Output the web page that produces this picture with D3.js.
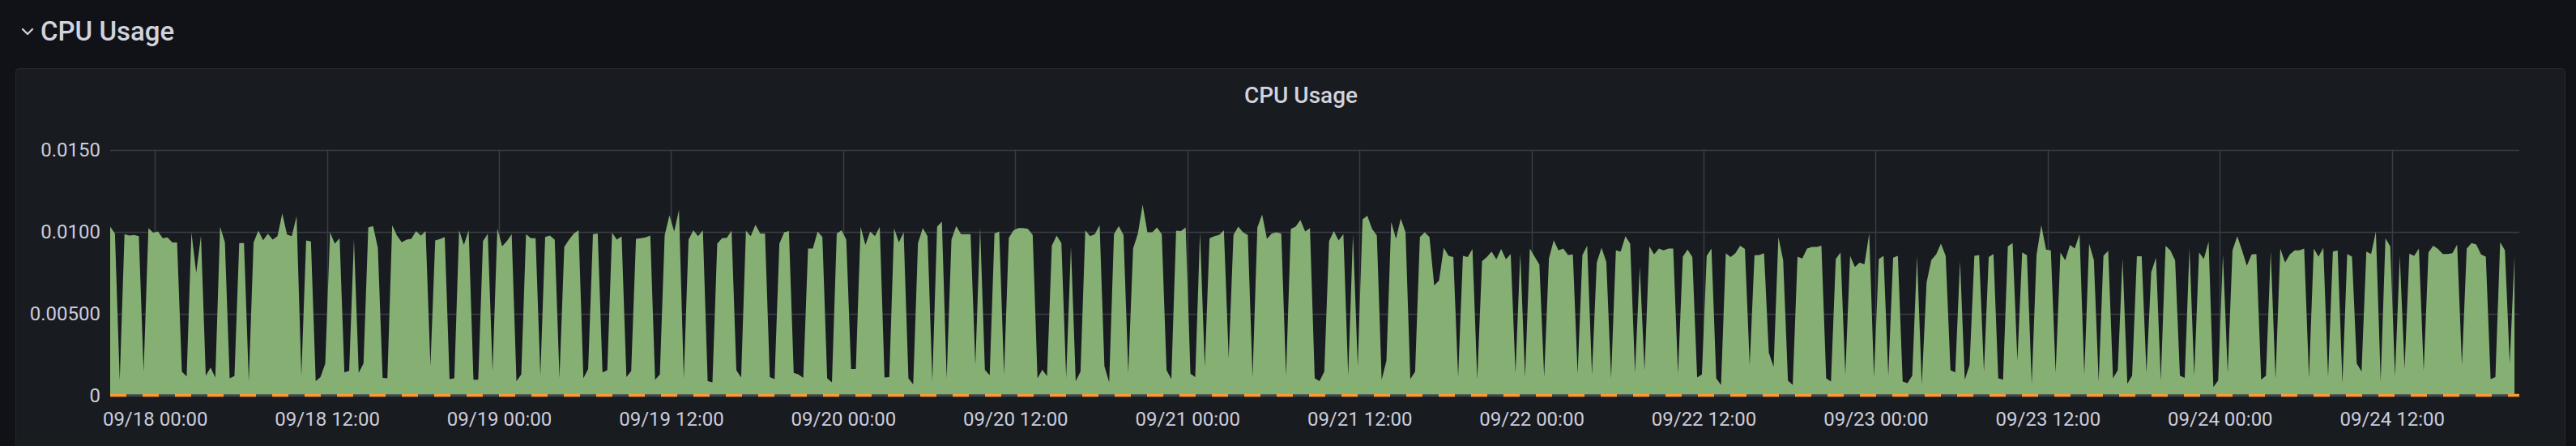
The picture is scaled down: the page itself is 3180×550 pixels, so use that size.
<!DOCTYPE html>
<html>
<head>
<meta charset="utf-8">
<script src="https://cdn.jsdelivr.net/npm/d3@7"></script>
<style>
  html, body { margin: 0; padding: 0; background: #111217; }
  svg { display: block; }
  text { font-family: Roboto, Inter, "Noto Sans", sans-serif; }
</style>
</head>
<body>
<svg id="chart" width="3180" height="550"></svg>
<script>
// ---- Data ----
const rowTitle = "CPU Usage";
const panelTitle = "CPU Usage";
const startTime = new Date(2023, 8, 17, 20, 53, 0);   // first sample / left edge
const endTime = new Date(2023, 8, 24, 20, 53, 0);     // right edge of 7-day range
const stepMinutes = 20;
const yTicks = [0, 0.005, 0.01, 0.015];
const yTickLabels = ["0", "0.00500", "0.0100", "0.0150"];
const xTickFormat = "%m/%d %H:%M";

const cpuPart1 = [
0.01030,0.00988,0.00090,0.00984,0.00975,0.00979,0.00972,0.00145,0.01021,0.00992,
0.01000,0.00959,0.00964,0.00933,0.00933,0.00145,0.00115,0.00995,0.00748,0.00975,
0.00120,0.00169,0.00109,0.01030,0.00934,0.00104,0.00117,0.00929,0.00929,0.00084,
0.00933,0.01005,0.00947,0.00987,0.00951,0.00972,0.01110,0.00982,0.00972,0.01094,
0.00120,0.00946,0.00939,0.00087,0.00112,0.00194,0.00995,0.00926,0.00959,0.00140,
0.00150,0.00956,0.00137,0.00194,0.01025,0.01033,0.00901,0.00107,0.00104,0.01038,
0.00975,0.00934,0.00951,0.00956,0.01003,0.00975,0.01003,0.00178,0.00946,0.00954,
0.00967,0.00099,0.00104,0.01008,0.00918,0.01008,0.00095,0.00095,0.00942,0.00987,
0.00148,0.01020,0.00910,0.00942];
const cpuPart2 = [
0.00984,0.00087,0.00128,0.00984,0.00959,0.00959,0.00120,0.00967,0.00975,0.00951,
0.00107,0.00906,0.00951,0.00988,0.01008,0.00104,0.00161,0.00984,0.00988,0.00140,
0.00153,0.00992,0.00951,0.00970,0.00112,0.00148,0.00956,0.00959,0.00964,0.00975,
0.00095,0.00128,0.00975,0.01099,0.01000,0.01132,0.00104,0.00951,0.01008,0.00972,
0.01008,0.00087,0.00079,0.00926,0.00959,0.00962,0.01005,0.00153,0.00109,0.01005,
0.00972,0.01041,0.00988,0.00988,0.00112,0.00099,0.00926,0.00995,0.01003,0.00137,
0.00128,0.00107,0.00896,0.00896,0.01000,0.00967,0.00104,0.00079,0.00988,0.01008,
0.00951,0.00161,0.00161,0.01028,0.00918,0.01000,0.00972,0.01028,0.00109,0.00112,
0.01020,0.00934,0.00995,0.00104];
const cpuPart3 = [
0.00067,0.00929,0.01021,0.00972,0.00087,0.01030,0.01061,0.00104,0.00951,0.01033,
0.00984,0.00984,0.00984,0.00186,0.01025,0.00156,0.00123,0.00988,0.01000,0.00128,
0.00962,0.01008,0.01021,0.01021,0.01016,0.00979,0.00104,0.00156,0.00117,0.00913,
0.00975,0.00929,0.00107,0.00910,0.00087,0.00145,0.01008,0.00972,0.00984,0.01038,
0.00178,0.00079,0.00984,0.01033,0.00979,0.00137,0.00896,0.00988,0.01164,0.00995,
0.00995,0.01025,0.00984,0.00153,0.00099,0.01005,0.01003,0.01025,0.00133,0.00112,
0.00995,0.00173,0.00959,0.00972,0.00979,0.01008,0.00227,0.00979,0.01030,0.00995,
0.00979,0.00112,0.01025,0.01104,0.00956,0.00988,0.00995,0.00988,0.00120,0.01016,
0.01030,0.01071,0.01000,0.01021];
const cpuPart4 = [
0.00104,0.00087,0.00145,0.00942,0.01003,0.00946,0.00984,0.00120,0.00984,0.00178,
0.01074,0.01097,0.01016,0.00975,0.00095,0.00211,0.01058,0.00956,0.01079,0.00995,
0.00099,0.00145,0.00967,0.00995,0.00967,0.00671,0.00701,0.00901,0.00852,0.00844,
0.00112,0.00852,0.00844,0.00893,0.00095,0.00819,0.00844,0.00877,0.00831,0.00893,
0.00831,0.00863,0.00137,0.00868,0.00112,0.00896,0.00847,0.00798,0.00112,0.00836,
0.00947,0.00885,0.00896,0.00857,0.00860,0.00133,0.00857,0.00913,0.00128,0.00811,
0.00901,0.00814,0.00107,0.00885,0.00877,0.00972,0.00926,0.00137,0.00786,0.00153,
0.00910,0.00860,0.00896,0.00885,0.00896,0.00896,0.00133,0.00847,0.00890,0.00844,
0.00109,0.00128,0.00852,0.00896];
const cpuPart5 = [
0.00104,0.00063,0.00868,0.00844,0.00868,0.00913,0.00893,0.00183,0.00855,0.00857,
0.00868,0.00260,0.00173,0.00967,0.00824,0.00090,0.00063,0.00847,0.00836,0.00896,
0.00906,0.00906,0.00913,0.00104,0.00084,0.00832,0.00872,0.00128,0.00852,0.00783,
0.00811,0.00799,0.00988,0.00112,0.00832,0.00852,0.00120,0.00840,0.00852,0.00084,
0.00074,0.00120,0.00852,0.00067,0.00688,0.00827,0.00860,0.00926,0.00852,0.00153,
0.00140,0.00819,0.00095,0.00186,0.00852,0.00857,0.00145,0.00844,0.00863,0.00104,
0.00095,0.00910,0.00929,0.00211,0.00872,0.00855,0.00071,0.00857,0.01038,0.00890,
0.00885,0.00137,0.00872,0.00824,0.00918,0.00896,0.00984,0.00128,0.00926,0.00827,
0.00084,0.00852,0.00882,0.00104];
const cpuPart6 = [
0.00153,0.00836,0.00071,0.00120,0.00849,0.00849,0.00137,0.00753,0.00840,0.00090,
0.00913,0.00885,0.00824,0.00120,0.00107,0.00898,0.00120,0.00872,0.00832,0.00939,
0.00051,0.00090,0.00860,0.00137,0.00885,0.00972,0.00885,0.00791,0.00860,0.00863,
0.00095,0.00120,0.00880,0.00100,0.00896,0.00811,0.00860,0.00885,0.00885,0.00896,
0.00107,0.00896,0.00847,0.00901,0.00112,0.00877,0.00885,0.00074,0.00863,0.00847,
0.00194,0.00145,0.00877,0.00863,0.01000,0.00087,0.00959,0.00910,0.00117,0.00852,
0.00161,0.00865,0.00852,0.00896,0.00150,0.00873,0.00913,0.00893,0.00863,0.00863,
0.00868,0.00921,0.00183,0.00896,0.00929,0.00921,0.00860,0.00847,0.00099,0.00112,
0.00934,0.00885,0.00194,0.00852];

const cpuValues = [].concat(cpuPart1, cpuPart2, cpuPart3, cpuPart4, cpuPart5, cpuPart6);
const cpuSeries = cpuValues.map((v, i) => ({ t: d3.timeMinute.offset(startTime, i * stepMinutes), v }));
const zeroSeries = [ { t: startTime, v: 0 }, { t: endTime, v: 0 } ];

// ---- Layout ----
const svg = d3.select("#chart");
const plot = { left: 136, right: 3110, top: 184.5, bottom: 487.5 };
const colors = {
  page: "#111217", panel: "#181b1f", panelBorder: "#25272c",
  grid: "#3a3c41", text: "#ccccdc", title: "#d2d3de",
  fill: "#86af74", orange: "#ff9830"
};

svg.append("rect").attr("width", 3180).attr("height", 550).attr("fill", colors.page);

// Row header
svg.append("path")
  .attr("d", "M28,36 L34,42 L40,36")
  .attr("fill", "none").attr("stroke", colors.text).attr("stroke-width", 2.4)
  .attr("stroke-linecap", "round").attr("stroke-linejoin", "round");
svg.append("text").attr("x", 50).attr("y", 50)
  .attr("font-size", 33).attr("font-weight", 500).attr("fill", colors.title)
  .text(rowTitle);

// Panel
svg.append("rect").attr("x", 19.5).attr("y", 84.5).attr("width", 3147).attr("height", 500)
  .attr("rx", 4).attr("fill", colors.panel).attr("stroke", colors.panelBorder).attr("stroke-width", 1);
svg.append("text").attr("x", 1606).attr("y", 127)
  .attr("text-anchor", "middle").attr("font-size", 28).attr("font-weight", 500)
  .attr("fill", colors.title).text(panelTitle);

// Scales
const x = d3.scaleTime().domain([startTime, endTime]).range([plot.left, plot.right]);
const y = d3.scaleLinear().domain([0, 0.015]).range([plot.bottom, plot.top]);

const xTicks = x.ticks(d3.timeHour.every(12));

// Grid
const grid = svg.append("g");
grid.selectAll("line.h").data(yTicks).join("line")
  .attr("x1", plot.left).attr("x2", plot.right)
  .attr("y1", d => Math.round(y(d)) + 0.5).attr("y2", d => Math.round(y(d)) + 0.5)
  .attr("stroke", colors.grid).attr("stroke-width", 1.5);
grid.selectAll("line.v").data(xTicks).join("line")
  .attr("x1", d => Math.round(x(d)) + 0.5).attr("x2", d => Math.round(x(d)) + 0.5)
  .attr("y1", plot.top).attr("y2", plot.bottom)
  .attr("stroke", colors.grid).attr("stroke-width", 1.5);

// Area
const area = d3.area().x(d => x(d.t)).y0(y(0)).y1(d => y(d.v));
svg.append("path").datum(cpuSeries).attr("d", area).attr("fill", colors.fill);

// Zero baseline + dashed zero series
svg.append("line").attr("x1", plot.left).attr("x2", plot.right)
  .attr("y1", y(0)).attr("y2", y(0)).attr("stroke", "#45474c").attr("stroke-width", 2.5);
const line = d3.line().x(d => x(d.t)).y(d => y(d.v));
svg.append("path").datum(zeroSeries).attr("d", line)
  .attr("fill", "none").attr("stroke", colors.orange).attr("stroke-width", 3.5)
  .attr("stroke-dasharray", "20,20");

// Axes
const yAxis = d3.axisLeft(y).tickValues(yTicks).tickSize(0).tickPadding(12)
  .tickFormat((d, i) => yTickLabels[i]);
const gy = svg.append("g").attr("transform", `translate(${plot.left},0)`).call(yAxis);
gy.select(".domain").remove();
gy.selectAll("text").attr("font-size", 24).attr("fill", colors.text)
  .attr("font-family", "Roboto, Inter, sans-serif");

const xAxis = d3.axisBottom(x).tickValues(xTicks).tickSize(0).tickPadding(20)
  .tickFormat(d3.timeFormat(xTickFormat));
const gx = svg.append("g").attr("transform", `translate(0,${plot.bottom})`).call(xAxis);
gx.select(".domain").remove();
gx.selectAll("text").attr("font-size", 24).attr("fill", colors.text)
  .attr("font-family", "Roboto, Inter, sans-serif");
</script>
</body>
</html>
